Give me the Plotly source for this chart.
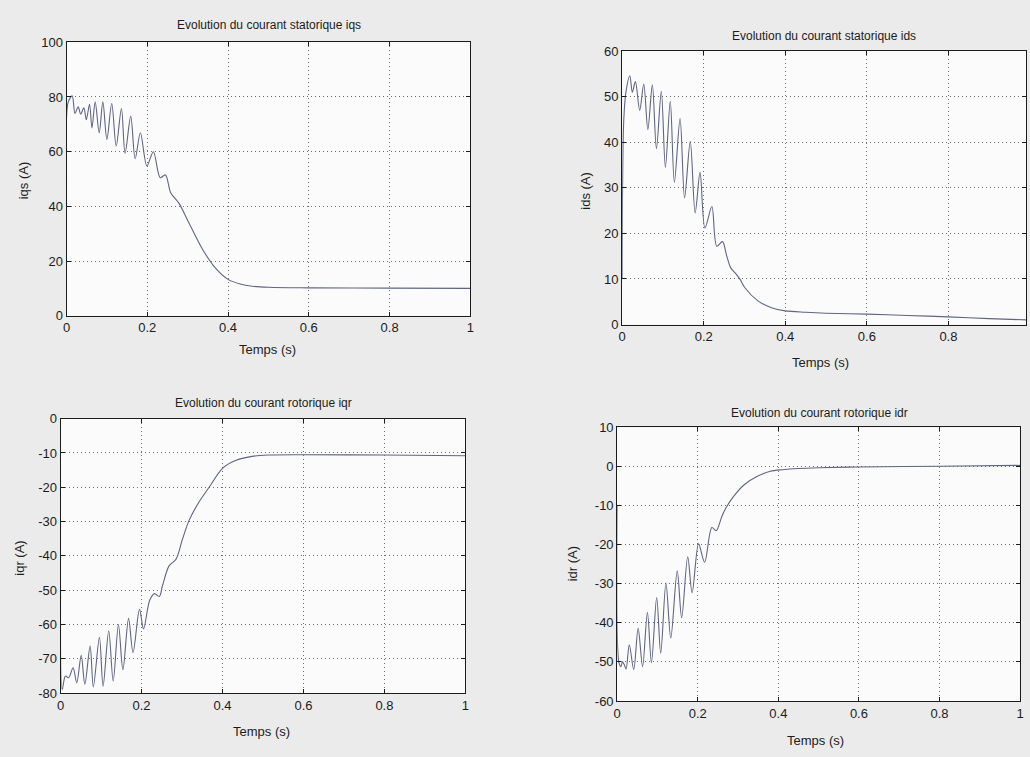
import plotly.graph_objects as go

# ---------------- data ----------------
t_iqs = [0, 0.004, 0.014, 0.021, 0.029, 0.035, 0.043, 0.049, 0.057, 0.063, 0.071, 0.081,
         0.09, 0.1, 0.112, 0.123, 0.136, 0.145, 0.159, 0.17, 0.183, 0.199, 0.215, 0.232,
         0.245, 0.258, 0.279, 0.303, 0.336, 0.369, 0.4, 0.43, 0.46, 0.5, 0.6, 0.8, 1.0]
iqs = [50, 78, 80.4, 74, 76.4, 73.7, 76, 71.7, 77.3, 68.7, 78.2, 66.9,
       78.2, 64.5, 77.6, 62.1, 75.8, 59.4, 72.9, 57.4, 66.9, 54.8, 60, 50.5,
       51.5, 45, 41, 34, 24.5, 17.4, 13.3, 11.6, 10.8, 10.4, 10.2, 10.1, 10.0]

t_ids = [0, 0.004, 0.01, 0.0187, 0.025, 0.0325, 0.043, 0.053, 0.063, 0.074, 0.084, 0.096,
         0.106, 0.118, 0.128, 0.142, 0.153, 0.167, 0.179, 0.191, 0.203, 0.22, 0.232, 0.246,
         0.256, 0.266, 0.28, 0.29, 0.3, 0.333, 0.366, 0.4, 0.45, 0.5, 0.6, 0.7, 0.8, 0.9, 1.0]
ids = [10, 45, 51.5, 54.6, 51, 53.3, 47, 52.8, 42.8, 52.6, 38.6, 51.2,
       34.5, 49, 31.2, 45.2, 27.8, 40.2, 24.5, 33.4, 21.2, 25.9, 17.2, 18.2,
       15.2, 12.5, 11, 9.8, 8.2, 5.2, 3.7, 3.0, 2.7, 2.5, 2.3, 2.0, 1.7, 1.3, 1.0]

t_iqr = [0, 0.004, 0.012, 0.02, 0.031, 0.04, 0.051, 0.06, 0.073, 0.081, 0.096, 0.105,
         0.119, 0.13, 0.143, 0.154, 0.168, 0.179, 0.195, 0.205, 0.22, 0.232, 0.244, 0.252,
         0.268, 0.285, 0.301, 0.318, 0.342, 0.367, 0.4, 0.432, 0.473, 0.513, 0.6, 0.8, 1.0]
iqr = [-50, -79, -75, -75.5, -72.6, -77, -69, -77.4, -66.3, -78.2, -63.7, -78,
       -61.8, -76.5, -60, -73.2, -58.2, -68.2, -55.6, -61.3, -53, -51, -51.8, -48.6,
       -42.9, -41, -35.2, -29.5, -24.3, -20, -14.5, -12.2, -11, -10.6, -10.5, -10.6, -10.8]

t_idr = [0, 0.004, 0.009, 0.013, 0.017, 0.022, 0.03, 0.041, 0.052, 0.063, 0.075, 0.085,
         0.098, 0.108, 0.121, 0.133, 0.149, 0.16, 0.175, 0.186, 0.202, 0.217, 0.235, 0.246,
         0.26, 0.272, 0.29, 0.316, 0.348, 0.38, 0.41, 0.45, 0.5, 0.6, 0.8, 1.0]
idr = [-10, -50, -51.2, -50, -50.6, -51.8, -45.6, -52, -41.4, -51.2, -37.3, -50.2,
       -33.5, -47.8, -29.8, -43.9, -26.7, -38.7, -23.1, -32.3, -19.8, -24.5, -15.6, -16.4,
       -12.7, -10.2, -7.5, -4.6, -2.5, -1.2, -0.8, -0.5, -0.3, -0.1, 0.1, 0.3]

x_ticks = [0, 0.2, 0.4, 0.6, 0.8, 1]
x_ticktext = ["0", "0.2", "0.4", "0.6", "0.8", "1"]
iqs_ticks = [0, 20, 40, 60, 80, 100]
ids_ticks = [0, 10, 20, 30, 40, 50, 60]
iqr_ticks = [0, -10, -20, -30, -40, -50, -60, -70, -80]
idr_ticks = [10, 0, -10, -20, -30, -40, -50, -60]

titles = ["Evolution du courant statorique iqs", "Evolution du courant statorique ids",
          "Evolution du courant rotorique iqr", "Evolution du courant rotorique idr"]
ylabels = ["iqs (A)", "ids (A)", "iqr (A)", "idr (A)"]
xlabel = "Temps (s)"

# ---------------- layout helpers ----------------
W, H = 1030, 757
def fx(px):
    return px / W
def fy(py):
    return 1 - py / H

LINE = "#5f6582"
INK = "#1c1c1c"
GRID = "#6e6e6e"
FONT = "Liberation Sans, Arial, sans-serif"

fig = go.Figure()
series = [(t_iqs, iqs), (t_ids, ids), (t_iqr, iqr), (t_idr, idr)]
for i, (tt, vv) in enumerate(series):
    sfx = "" if i == 0 else str(i + 1)
    fig.add_trace(go.Scatter(x=tt, y=vv, mode="lines",
                             line=dict(color=LINE, width=1.1, shape="spline", smoothing=0.9),
                             xaxis="x" + sfx, yaxis="y" + sfx, showlegend=False,
                             hoverinfo="skip"))

common = dict(showgrid=True, gridcolor=GRID, griddash="1px,3px", gridwidth=1,
              showline=True, linecolor=INK, linewidth=1, mirror="ticks",
              ticks="inside", ticklen=4, tickcolor=INK, zeroline=False,
              tickfont=dict(size=13, color=INK, family=FONT))

def xax(domain, rng, anchor):
    return dict(domain=domain, range=rng, anchor=anchor, tickvals=x_ticks,
                ticktext=x_ticktext, **common)

def yax(domain, rng, anchor, ticks):
    return dict(domain=domain, range=rng, anchor=anchor, tickvals=ticks,
                ticktext=[str(v) for v in ticks], **common)

# plot rectangles (pixels): left, right, top, bottom
boxes = [(63, 470, 36, 315), (623, 1030, 45, 324), (57, 465, 420, 700), (618, 1024, 429, 708)]
xranges = [[0, 1], [0, (1030 - 623) / 411], [0, 1], [0, 1]]
yranges = [[0, 100], [0, 60], [-80, 0], [-60, 10]]
yticks = [iqs_ticks, ids_ticks, iqr_ticks, idr_ticks]

lay = {}
for i, (l, r, t, b) in enumerate(boxes):
    sfx = "" if i == 0 else str(i + 1)
    lay["xaxis" + sfx] = xax([fx(l), fx(r)], xranges[i], "y" + sfx)
    lay["yaxis" + sfx] = yax([fy(b), fy(t)], yranges[i], "x" + sfx, yticks[i])

title_pos = [(267, 18), (826, 30), (262, 404), (822, 414)]
xlab_pos = [(266, 349), (823, 363), (260, 739), (818, 748)]
ylab_pos = [(20, 177), (586, 187), (16, 562), (573, 568)]

ann = []
for i in range(4):
    ann.append(dict(text=titles[i], x=fx(title_pos[i][0]), y=fy(title_pos[i][1]),
                    xref="paper", yref="paper", showarrow=False, xanchor="center",
                    yanchor="middle", font=dict(size=12, color=INK, family=FONT)))
    ann.append(dict(text=xlabel, x=fx(xlab_pos[i][0]), y=fy(xlab_pos[i][1]),
                    xref="paper", yref="paper", showarrow=False, xanchor="center",
                    yanchor="middle", font=dict(size=13, color=INK, family=FONT)))
    ann.append(dict(text=ylabels[i], x=fx(ylab_pos[i][0]), y=fy(ylab_pos[i][1]),
                    xref="paper", yref="paper", showarrow=False, xanchor="center",
                    yanchor="middle", textangle=-90,
                    font=dict(size=13, color=INK, family=FONT)))

fig.update_layout(width=W, height=H, margin=dict(l=0, r=0, t=0, b=0),
                  paper_bgcolor="#ebebeb", plot_bgcolor="#fbfbfb",
                  annotations=ann, font=dict(family=FONT, color=INK), **lay)

fig.write_html("out.html")
